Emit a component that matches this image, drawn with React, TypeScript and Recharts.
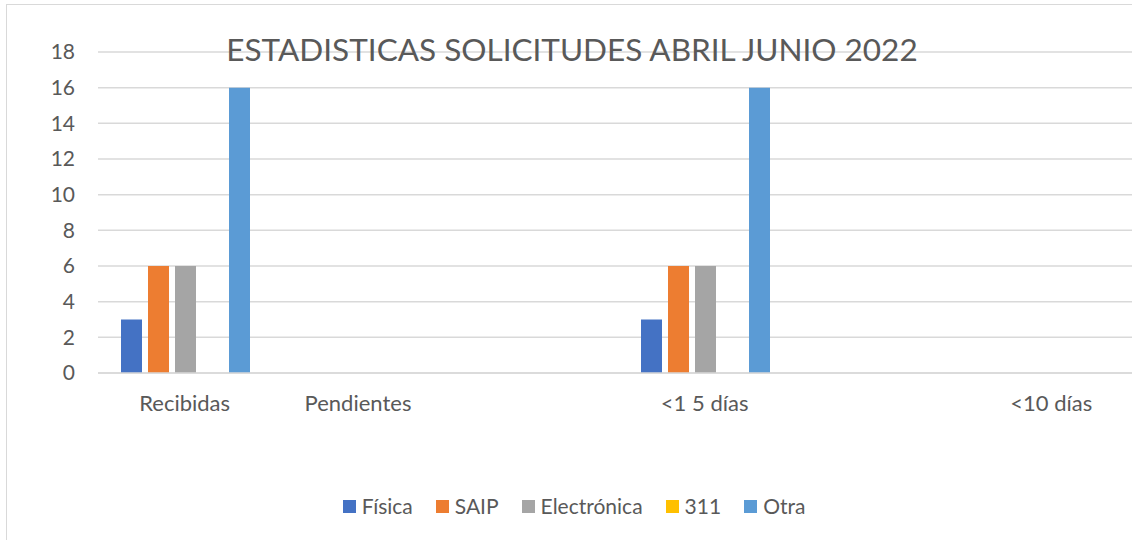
import React from "react";
import { BarChart, Bar, XAxis, YAxis, CartesianGrid } from "recharts";

const categories = ["Recibidas", "Pendientes", "", "<1 5 días", "", "<10 días"];
const fisica = [3, 0, 0, 3, 0, 0];
const saip = [6, 0, 0, 6, 0, 0];
const electronica = [6, 0, 0, 6, 0, 0];
const linea311 = [0, 0, 0, 0, 0, 0];
const otra = [16, 0, 0, 16, 0, 0];
const yTicks = [0, 2, 4, 6, 8, 10, 12, 14, 16, 18];

const series = [
  { key: "fisica", name: "Física", color: "#4472C4", values: fisica },
  { key: "saip", name: "SAIP", color: "#ED7D31", values: saip },
  { key: "electronica", name: "Electrónica", color: "#A5A5A5", values: electronica },
  { key: "l311", name: "311", color: "#FFC000", values: linea311 },
  { key: "otra", name: "Otra", color: "#5B9BD5", values: otra },
];

const data = categories.map((c, i) => {
  const row: Record<string, number | string> = { idx: i, cat: c };
  series.forEach((s) => (row[s.key] = s.values[i]));
  return row;
});

const FONT = "Lato, 'Open Sans', sans-serif";
const TEXT = "#595959";

function LegendRow() {
  return (
    <div
      style={{
        position: "absolute",
        left: 0,
        top: 493,
        width: 1148,
        display: "flex",
        justifyContent: "center",
        gap: 23,
        fontFamily: FONT,
        fontSize: 21,
        lineHeight: "26px",
        color: TEXT,
      }}
    >
      {series.map((s) => (
        <div key={s.key} style={{ display: "flex", alignItems: "center", gap: 6 }}>
          <span style={{ width: 13, height: 13, background: s.color, display: "inline-block" }} />
          <span>{s.name}</span>
        </div>
      ))}
    </div>
  );
}

export default function App() {
  return (
    <div
      style={{
        position: "fixed",
        left: 0,
        top: 0,
        width: 1132,
        height: 540,
        overflow: "hidden",
        background: "#fff",
      }}
    >
      <div
        style={{
          position: "absolute",
          left: 6,
          top: 4,
          width: 1200,
          height: 600,
          borderLeft: "1px solid #d9d9d9",
          borderTop: "1px solid #d9d9d9",
        }}
      />
      <div style={{ position: "absolute", left: 0, top: 0 }}>
        <BarChart
          width={1150}
          height={540}
          data={data}
          margin={{ top: 52, right: 12, bottom: 127, left: 0 }}
          barCategoryGap={23}
          barGap={6}
        >
          <CartesianGrid vertical={false} stroke="#d9d9d9" strokeWidth={1.5} />
          <XAxis
            dataKey="idx"
            type="category"
            height={40}
            tickFormatter={(v: number) => categories[v]}
            axisLine={{ stroke: "#d9d9d9", strokeWidth: 1.5 }}
            tickLine={false}
            tickSize={0}
            tickMargin={22}
            tick={{ fill: TEXT, fontSize: 22, fontFamily: FONT }}
            interval={0}
          />
          <YAxis
            width={98}
            domain={[0, 18]}
            ticks={yTicks}
            axisLine={false}
            tickLine={false}
            tickSize={0}
            tickMargin={23}
            tick={{ fill: TEXT, fontSize: 21, fontFamily: FONT }}
          />
          {series.map((s) => (
            <Bar
              key={s.key}
              dataKey={s.key}
              name={s.name}
              fill={s.color}
              isAnimationActive={false}
            />
          ))}
        </BarChart>
      </div>
      <LegendRow />
      <div
        style={{
          position: "absolute",
          left: 0,
          top: 30,
          width: 1144,
          textAlign: "center",
          fontFamily: FONT,
          fontSize: 31.5,
          lineHeight: "38px",
          color: TEXT,
        }}
      >
        ESTADISTICAS SOLICITUDES ABRIL JUNIO 2022
      </div>
    </div>
  );
}
